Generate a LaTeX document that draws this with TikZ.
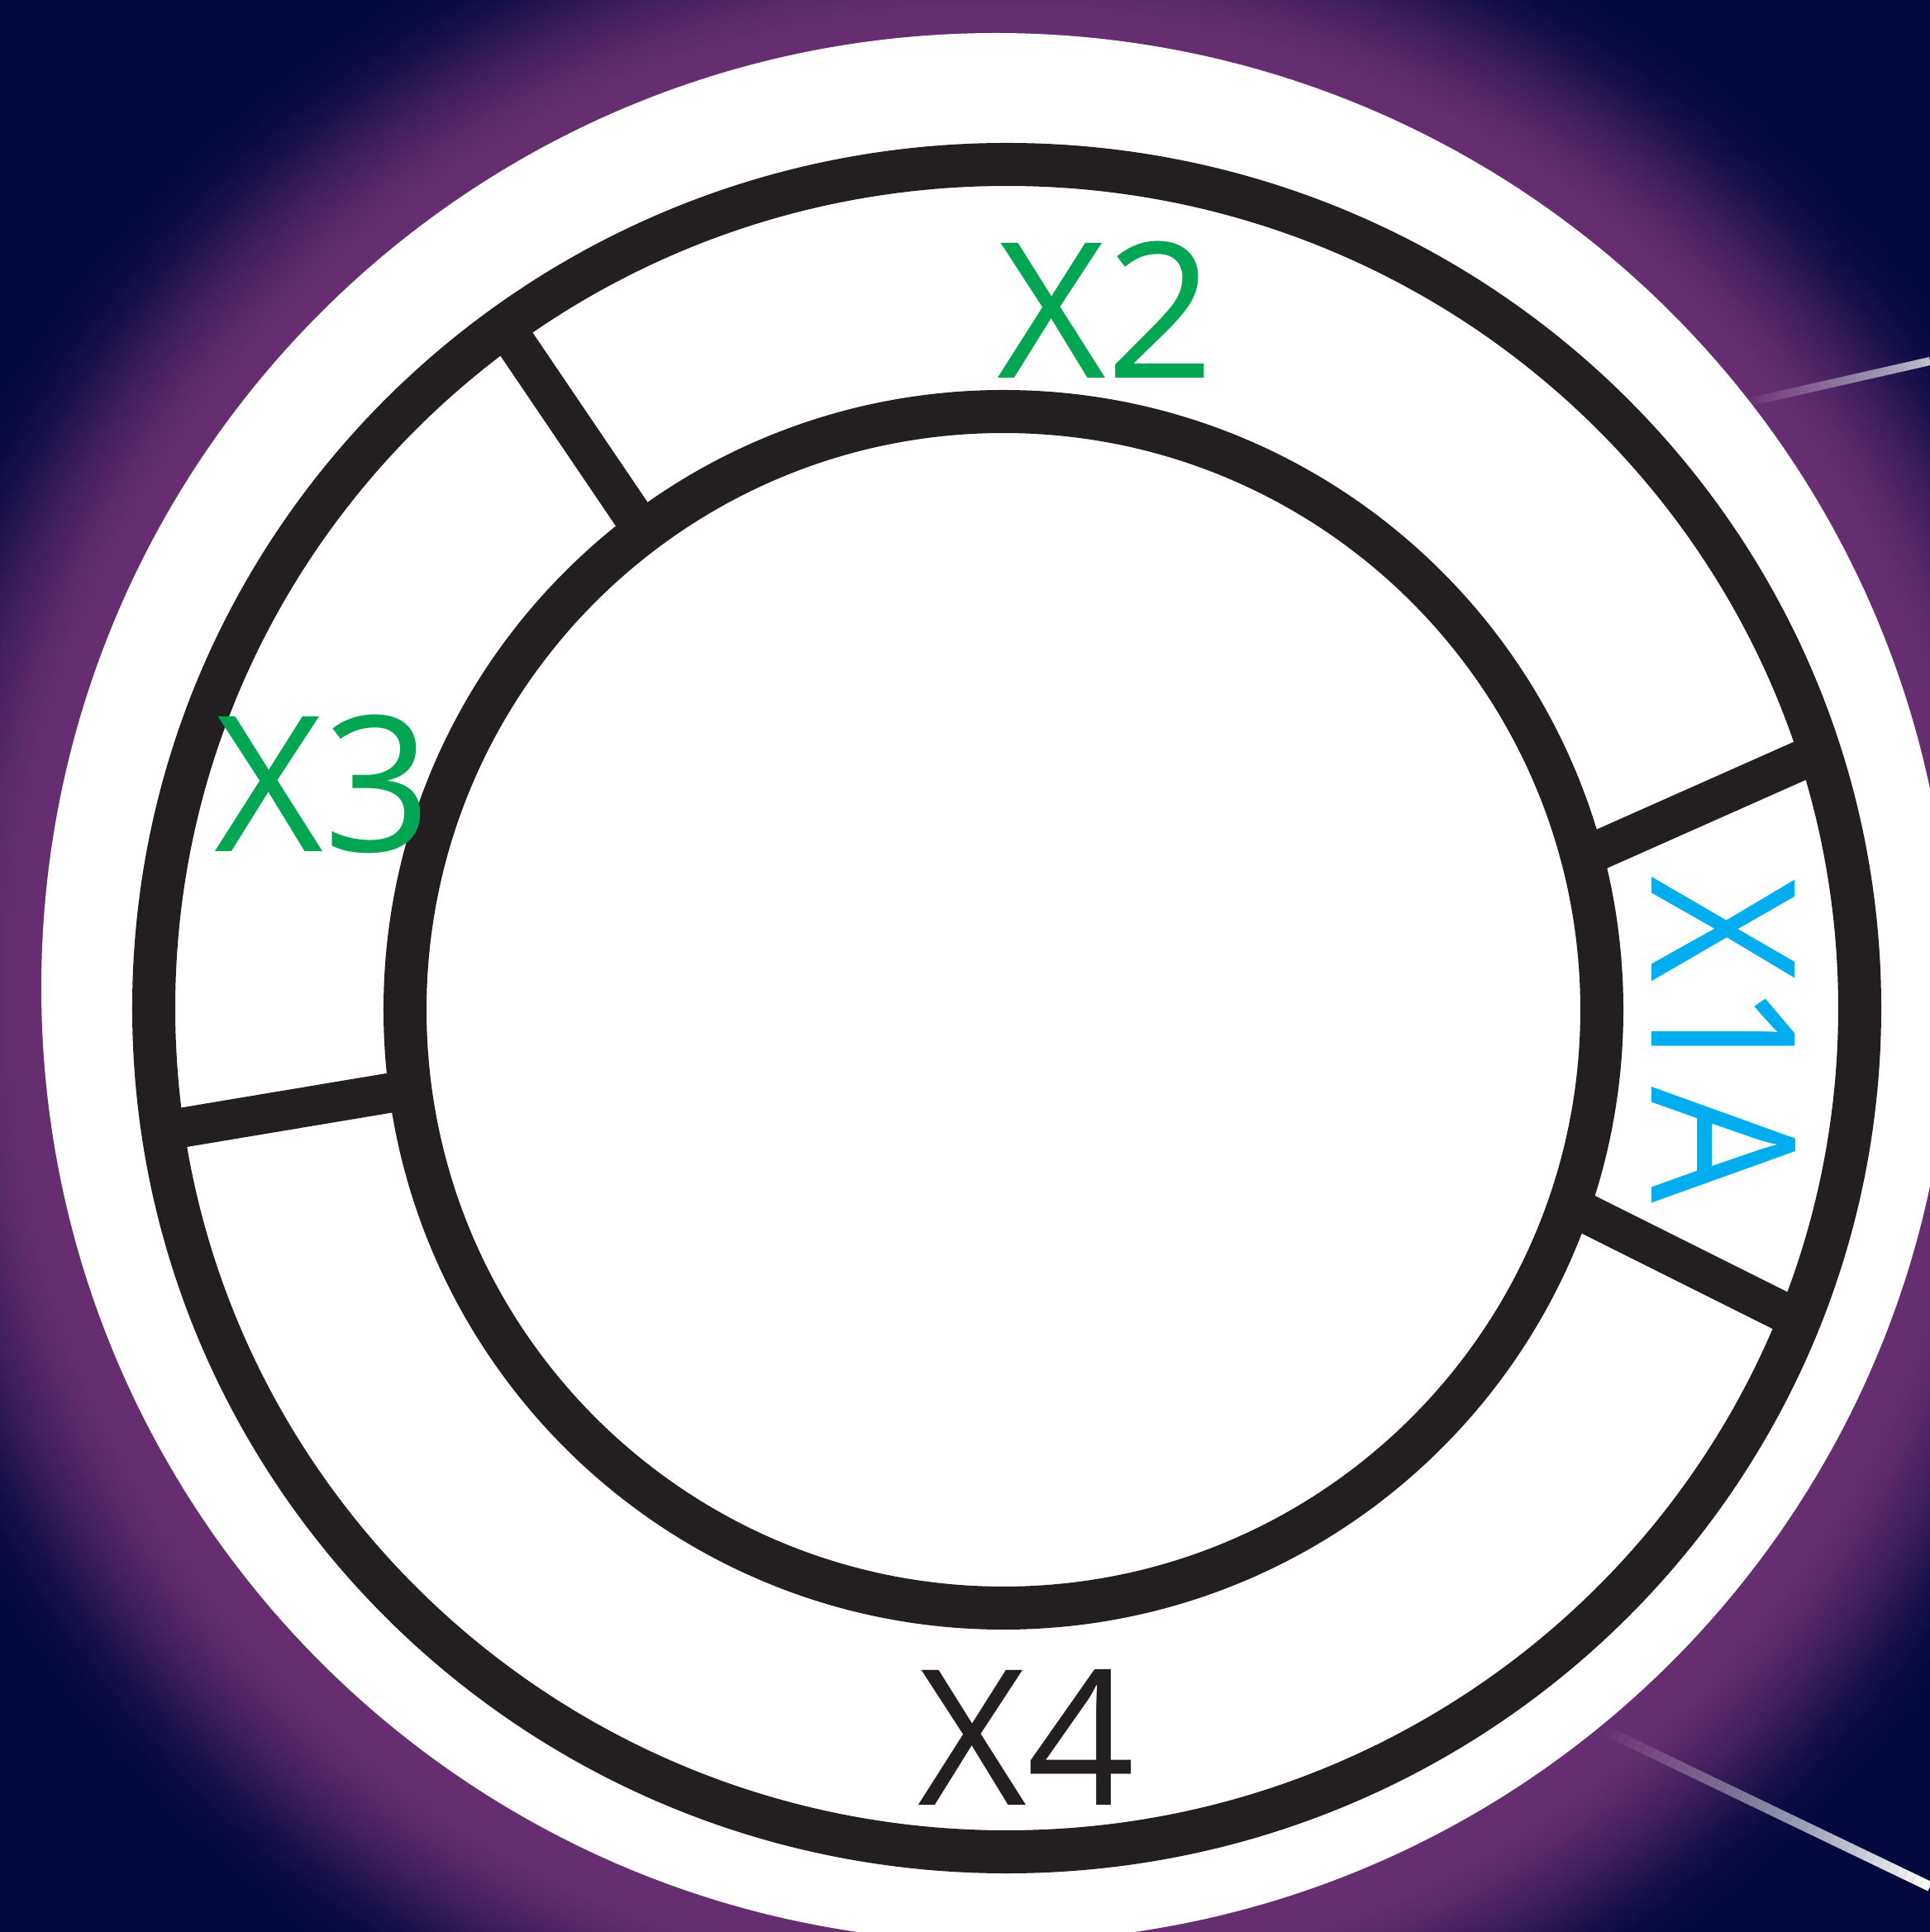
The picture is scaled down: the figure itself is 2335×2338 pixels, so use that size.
\documentclass[tikz,border=0pt]{standalone}
\usepackage{fontspec}
\usepackage{graphicx}
\newfontfamily\labelfont{Open Sans}
\usetikzlibrary{calc}
\definecolor{glowpurple}{RGB}{102,46,113}
\definecolor{glownavy}{RGB}{2,8,62}
\definecolor{ringblack}{RGB}{35,31,32}
\definecolor{lblgreen}{RGB}{0,166,81}
\definecolor{lblcyan}{RGB}{0,174,239}
\definecolor{lblblack}{RGB}{35,31,32}
\begin{document}
\begin{tikzpicture}[x=0.01cm,y=0.01cm,
  ring/.style={draw=ringblack, line width=0.52cm},
  divider/.style={draw=ringblack, line width=0.48cm, line cap=butt},
  lbl/.style={inner sep=0pt, font=\labelfont\fontsize{65pt}{70pt}\selectfont},
  ray/.style={draw=white, line cap=butt}]
\useasboundingbox (0,0) rectangle (2335,2338);
% background glow
\coordinate (gc) at (1205,1133);
\begin{scope}
  \clip (0,0) rectangle (2335,2338);
  \fill[glownavy] (0,0) rectangle (2335,2338);
  \foreach \i [evaluate=\i as \tt using \i/48,
               evaluate=\i as \pp using 100*(3*\tt*\tt-2*\tt*\tt*\tt),
               evaluate=\i as \rr using 1415-5*\i] in {0,...,48}
    \fill[glowpurple!\pp!glownavy] (gc) circle [radius=\rr];
\end{scope}
% light rays
\coordinate (r1a) at (2110,1850);
\coordinate (r1b) at (2335,1901);
\coordinate (r2a) at (1940,245);
\coordinate (r2b) at (2335,55);
\foreach \i [evaluate=\i as \op using 0.75*(\i+0.5)/40,
             evaluate=\i as \ta using \i/40,
             evaluate=\i as \tb using (\i+1)/40] in {0,...,39}
  \draw[ray, line width=0.10cm, draw opacity=\op] ($(r1a)!\ta!(r1b)$) -- ($(r1a)!\tb!(r1b)$);
\foreach \i [evaluate=\i as \op using (\i+0.5)/40,
             evaluate=\i as \ta using \i/40,
             evaluate=\i as \tb using (\i+1)/40] in {0,...,39}
  \draw[ray, line width=0.12cm, draw opacity=\op] ($(r2a)!\ta!(r2b)$) -- ($(r2a)!\tb!(r2b)$);
% white disc
\fill[white] (1205,1143) circle [radius=1155];
% rings
\coordinate (oc) at (1218,1118);
\coordinate (ic) at (1214,1116);
\draw[ring] (oc) ellipse [x radius=1032, y radius=1021];
\draw[ring] (ic) circle [radius=724];
% dividers
\coordinate (d1o) at (609,1945);  \coordinate (d1i) at (779,1694);
\coordinate (d2i) at (1916,1301); \coordinate (d2o) at (2195,1425);
\coordinate (d3i) at (1900,879);  \coordinate (d3o) at (2172,743);
\coordinate (d4o) at (200,970);   \coordinate (d4i) at (499,1020);
\draw[divider] (d1o) -- (d1i);
\draw[divider] (d2i) -- (d2o);
\draw[divider] (d3i) -- (d3o);
\draw[divider] (d4o) -- (d4i);
% labels
\node[lbl, text=lblgreen] (x2) at (1338,1963) {X2};
\node[lbl, text=lblgreen] (x3) at (391,1389) {X3};
\node[lbl, text=lblblack] (x4) at (1242,236) {X4};
\node[lbl, text=lblcyan, rotate=-90, font=\labelfont\fontsize{69pt}{74pt}\selectfont] (x1a) at (2085,1080) {\scalebox{0.915}[1]{X1A}};
\end{tikzpicture}
\end{document}
